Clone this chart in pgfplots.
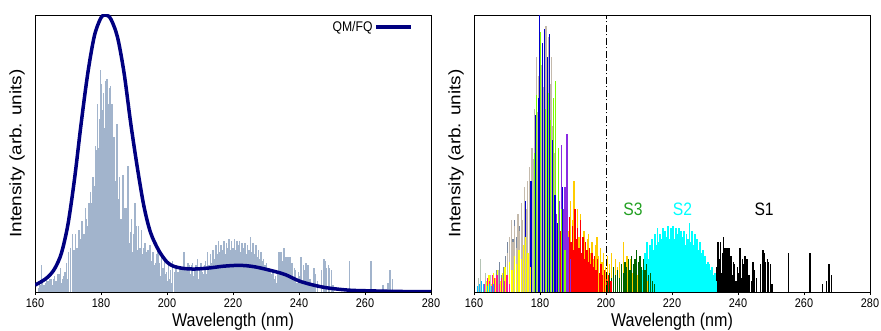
\documentclass[border=0pt]{standalone}
\usepackage{fontspec}
\setmainfont{Liberation Sans}[FakeStretch=0.87]
\newfontfamily\ylabfont{Liberation Sans}[FakeStretch=1.15]
\usepackage{pgfplots}
\usepackage{pgfplotstable}
\pgfplotsset{compat=1.18}

\definecolor{stick}{RGB}{162,180,204}
\definecolor{curve}{RGB}{0,0,128}
\definecolor{cS1}{RGB}{0,0,0}
\definecolor{cS2}{RGB}{0,255,255}
\definecolor{cS3}{RGB}{0,100,0}
\definecolor{cS4}{RGB}{255,204,0}
\definecolor{cS5}{RGB}{255,0,0}
\definecolor{cS6}{RGB}{138,43,226}
\definecolor{cS7}{RGB}{124,252,0}
\definecolor{cS8}{RGB}{0,0,205}
\definecolor{cS9}{RGB}{196,186,172}
\definecolor{cS10}{RGB}{120,136,160}
\definecolor{cS11}{RGB}{255,255,0}
\definecolor{cS12}{RGB}{255,20,147}
\definecolor{cS13}{RGB}{0,191,255}
\definecolor{cS14}{RGB}{180,195,180}
\definecolor{labgreen}{RGB}{34,160,34}

\pgfplotstableread{
x y
233.2 0.04
233.6 0.09
233.9 0.18
234.3 0.12
234.6 0.18
234.9 0.07
235.2 0.14
235.5 0.20
235.8 0.11
236.1 0.16
236.4 0.09
236.7 0.16
237.0 0.12
237.3 0.16
237.6 0.08
237.9 0.13
238.2 0.06
238.6 0.11
239.0 0.10
239.4 0.04
239.8 0.09
240.2 0.07
240.6 0.16
241.0 0.05
241.3 0.12
241.7 0.10
242.1 0.13
242.5 0.12
242.9 0.12
243.3 0.06
244.0 0.04
244.5 0.11
245.0 0.08
245.6 0.05
246.8 0.10
247.6 0.15
248.0 0.14
248.4 0.11
248.9 0.12
249.3 0.11
249.8 0.10
250.3 0.03
255.3 0.14
261.8 0.14
265.5 0.03
266.9 0.04
267.6 0.10
268.4 0.06
}\sA

\pgfplotstableread{
x y
209.5 0.06
210.3 0.10
211.0 0.08
211.7 0.14
212.3 0.18
212.8 0.12
213.2 0.17
213.6 0.13
214.0 0.19
214.4 0.15
214.8 0.21
215.2 0.17
215.6 0.23
216.0 0.18
216.4 0.21
216.8 0.19
217.2 0.23
217.6 0.17
218.0 0.22
218.4 0.20
218.8 0.24
219.2 0.19
219.6 0.23
220.0 0.20
220.4 0.24
220.8 0.19
221.2 0.23
221.6 0.21
222.0 0.23
222.4 0.18
222.8 0.22
223.2 0.20
223.6 0.22
224.0 0.17
224.4 0.21
224.8 0.19
225.3 0.25
225.7 0.18
226.1 0.22
226.5 0.17
226.9 0.21
227.3 0.16
227.7 0.19
228.1 0.15
228.5 0.18
228.9 0.14
229.3 0.15
229.7 0.12
230.1 0.13
230.5 0.10
230.9 0.11
231.3 0.10
231.7 0.08
232.1 0.09
232.5 0.06
232.9 0.07
233.3 0.04
}\sB

\pgfplotstableread{
x y
200.4 0.04
201.0 0.07
201.6 0.05
202.2 0.09
202.8 0.06
203.4 0.08
204.0 0.05
204.6 0.10
205.2 0.07
205.8 0.11
206.3 0.09
206.8 0.12
207.3 0.08
207.8 0.13
208.3 0.10
208.8 0.12
209.3 0.15
209.8 0.11
210.3 0.13
210.8 0.09
211.3 0.12
211.8 0.08
212.3 0.10
212.8 0.06
213.4 0.07
214.0 0.04
214.6 0.03
}\sC

\pgfplotstableread{
x y
186.5 0.12
187.3 0.20
188.0 0.30
188.6 0.22
189.2 0.33
189.8 0.26
190.3 0.40
190.8 0.24
191.3 0.30
191.8 0.20
192.3 0.28
192.8 0.17
193.3 0.22
193.8 0.15
194.3 0.19
194.8 0.21
195.3 0.14
195.8 0.18
196.3 0.12
196.8 0.17
197.3 0.20
197.8 0.13
198.3 0.16
198.8 0.11
199.3 0.14
199.8 0.09
200.4 0.13
201.0 0.10
201.6 0.14
202.2 0.08
202.8 0.12
203.4 0.09
204.0 0.11
204.6 0.07
205.2 0.18
205.8 0.10
206.4 0.13
207.0 0.08
207.6 0.12
208.2 0.07
208.8 0.10
209.4 0.06
210.0 0.09
210.8 0.05
211.6 0.07
212.4 0.04
}\sD

\pgfplotstableread{
x y
185.6 0.10
186.1 0.22
186.6 0.37
187.0 0.18
187.4 0.30
187.8 0.24
188.2 0.35
188.6 0.20
189.0 0.27
189.4 0.18
189.8 0.24
190.2 0.15
190.6 0.30
191.0 0.19
191.4 0.23
191.8 0.16
192.2 0.26
192.6 0.14
193.0 0.20
193.4 0.12
193.8 0.18
194.2 0.15
194.6 0.11
195.0 0.16
195.4 0.10
195.8 0.14
196.2 0.09
196.6 0.13
197.0 0.08
197.5 0.12
198.0 0.07
198.5 0.10
199.0 0.06
199.6 0.08
200.2 0.05
200.8 0.06
201.5 0.04
}\sE

\pgfplotstableread{
x y
181.8 0.25
182.4 0.38
183.0 0.30
183.5 0.45
184.0 0.35
184.5 0.40
185.0 0.28
185.5 0.42
186.0 0.33
186.6 0.53
187.1 0.30
187.6 0.38
188.2 0.57
188.7 0.20
189.2 0.12
}\sF

\pgfplotstableread{
x y
177.4 0.20
178.5 0.50
178.9 0.71
180.0 0.94
180.8 0.70
181.6 0.66
182.4 0.72
183.2 0.62
184.0 0.70
184.8 0.76
185.6 0.52
186.5 0.30
187.6 0.15
}\sG

\pgfplotstableread{
x y
175.6 0.33
177.3 0.40
178.7 0.64
179.5 0.70
179.9 1.00
180.7 0.90
181.4 0.95
182.2 0.85
182.9 0.93
183.7 0.55
184.5 0.35
185.4 0.25
186.9 0.38
}\sH

\pgfplotstableread{
x y
169.5 0.08
170.2 0.14
170.8 0.20
171.3 0.26
171.8 0.18
172.3 0.24
172.8 0.16
173.3 0.28
173.8 0.22
174.3 0.32
174.8 0.26
175.3 0.38
175.8 0.30
176.3 0.40
176.8 0.45
177.2 0.36
177.6 0.52
178.0 0.48
178.4 0.66
178.9 0.85
179.3 0.65
179.7 0.78
180.1 0.70
180.5 0.82
180.9 0.74
181.3 0.88
181.8 0.96
182.2 0.80
182.6 0.92
183.0 0.75
183.4 0.85
183.8 0.60
184.2 0.50
184.7 0.35
185.2 0.22
}\sI

\pgfplotstableread{
x y
166.4 0.05
167.0 0.08
167.8 0.11
168.4 0.06
169.0 0.09
169.6 0.13
170.2 0.18
170.8 0.15
171.3 0.22
171.8 0.19
172.3 0.26
172.8 0.20
173.3 0.28
173.8 0.24
174.3 0.30
174.8 0.22
175.3 0.34
175.8 0.26
176.3 0.20
176.8 0.28
177.3 0.15
177.8 0.10
}\sJ

\pgfplotstableread{
x y
163.8 0.04
164.5 0.06
165.2 0.03
165.9 0.07
166.6 0.05
167.3 0.08
168.0 0.04
168.7 0.07
169.4 0.09
170.1 0.06
170.8 0.11
171.5 0.08
172.2 0.13
172.9 0.10
173.6 0.15
174.3 0.12
175.0 0.17
175.7 0.20
176.4 0.14
177.1 0.09
}\sK

\pgfplotstableread{
x y
163.2 0.03
164.0 0.05
164.8 0.04
165.6 0.06
166.3 0.05
167.0 0.06
167.7 0.03
168.4 0.05
169.2 0.04
170.0 0.06
170.8 0.03
}\sL

\pgfplotstableread{
x y
161.0 0.02
161.6 0.03
162.2 0.04
162.8 0.03
163.4 0.04
164.0 0.02
164.6 0.03
165.3 0.02
166.0 0.03
}\sM

\pgfplotstableread{
x y
161.4 0.05
162.0 0.12
163.5 0.07
165.0 0.06
167.5 0.08
}\sN

\pgfplotsset{
  panel/.style={
    width=396bp, height=277bp, scale only axis,
    xmin=160, xmax=280, ymin=0, ymax=1,
    xtick={160,180,...,280}, ytick=\empty,
    tick pos=left, tick align=outside, major tick length=3bp,
    /pgf/number format/assume math mode=true,
    /pgf/number format/1000 sep={},
    tick label style={font=\fontsize{12.5bp}{14bp}\selectfont},
    axis line style={line width=0.8bp},
    every tick/.style={black, line width=0.8bp},
    xlabel={Wavelength (nm)},
    xlabel style={font=\fontsize{18.5bp}{20bp}\selectfont, at={(axis description cs:0.5,0)}, anchor=base, yshift=-34bp},
    ylabel={Intensity (arb. units)},
    ylabel style={font=\ylabfont\fontsize{16.5bp}{18bp}\selectfont, at={(axis description cs:-0.045,0.5)}, anchor=center},
  },
  lstick/.style={ycomb, draw=stick, line width=1.5bp, mark=none, forget plot},
  rstick/.style={ycomb, draw=#1, line width=1.3bp, mark=none},
}

\begin{document}
\begin{tikzpicture}
\path[use as bounding box] (0,0) rectangle (881bp,331bp);
\begin{axis}[panel, at={(35bp,39bp)}, anchor=south west,
  legend plot pos=right,
  legend style={draw=none, fill=none, at={(rel axis cs:0.955,0.985)}, anchor=north east,
    font=\fontsize{14bp}{16bp}\selectfont, inner sep=0pt},
  legend image code/.code={\draw[#1] (0bp,0bp) -- (35bp,0bp);},
]
\addplot[lstick] table[x=x, y expr=0.8*\thisrow{y}] {\sA};
\addplot[lstick] table[x=x, y expr=0.8*\thisrow{y}] {\sB};
\addplot[lstick] table[x=x, y expr=0.8*\thisrow{y}] {\sC};
\addplot[lstick] table[x=x, y expr=0.8*\thisrow{y}] {\sD};
\addplot[lstick] table[x=x, y expr=0.8*\thisrow{y}] {\sE};
\addplot[lstick] table[x=x, y expr=0.8*\thisrow{y}] {\sF};
\addplot[lstick] table[x=x, y expr=0.8*\thisrow{y}] {\sG};
\addplot[lstick] table[x=x, y expr=0.8*\thisrow{y}] {\sH};
\addplot[lstick] table[x=x, y expr=0.8*\thisrow{y}] {\sI};
\addplot[lstick] table[x=x, y expr=0.8*\thisrow{y}] {\sJ};
\addplot[lstick] table[x=x, y expr=0.8*\thisrow{y}] {\sK};
\addplot[lstick] table[x=x, y expr=0.8*\thisrow{y}] {\sL};
\addplot[lstick] table[x=x, y expr=0.8*\thisrow{y}] {\sM};
\addplot[lstick] table[x=x, y expr=0.8*\thisrow{y}] {\sN};
\addplot[smooth, draw=curve, line width=3.5bp, mark=none] coordinates {
(160,0.025) (162,0.038) (164,0.055) (166,0.085) (168,0.14) (170,0.245)
(172,0.41) (174,0.61) (176,0.79) (178,0.925) (180,0.99) (181.5,1.0)
(183,0.985) (185,0.92) (187,0.79) (189,0.61) (191,0.45) (193,0.31)
(195,0.215) (197.5,0.15) (200,0.108) (202,0.093) (205,0.085) (208.5,0.083)
(213,0.087) (217,0.093) (221,0.096) (224,0.095) (227,0.09) (230,0.082)
(233,0.073) (236,0.062) (240,0.04) (244,0.026) (248,0.016) (252,0.01)
(256,0.006) (262,0.004) (270,0.002) (280,0.001)};
\addlegendentry{QM/FQ}
\end{axis}

\begin{axis}[panel, at={(474bp,39bp)}, anchor=south west]
\addplot[rstick=cS1] table[x=x, y=y] {\sA};
\addplot[rstick=cS2, line width=1.9bp] table[x=x, y=y] {\sB};
\addplot[rstick=cS4] table[x=x, y=y] {\sD};
\addplot[rstick=cS3] table[x=x, y=y] {\sC};
\addplot[rstick=cS5] table[x=x, y=y] {\sE};
\addplot[rstick=cS6] table[x=x, y=y] {\sF};
\addplot[rstick=cS10] table[x=x, y=y] {\sJ};
\addplot[rstick=cS9] table[x=x, y=y] {\sI};
\addplot[rstick=cS7] table[x=x, y=y] {\sG};
\addplot[rstick=cS8] table[x=x, y=y] {\sH};
\addplot[rstick=cS11] table[x=x, y=y] {\sK};
\addplot[rstick=cS12] table[x=x, y=y] {\sL};
\addplot[rstick=cS13] table[x=x, y=y] {\sM};
\addplot[rstick=cS14] table[x=x, y=y] {\sN};
\addplot[black, line width=0.8bp, dash pattern=on 7bp off 2.5bp on 1bp off 2.5bp, mark=none] coordinates {(200,0) (200,1)};
\node[font=\fontsize{18bp}{20bp}\selectfont, text=labgreen] at (axis cs:208.2,0.30) {S3};
\node[font=\fontsize{18bp}{20bp}\selectfont, text=cS2] at (axis cs:223.2,0.30) {S2};
\node[font=\fontsize{18bp}{20bp}\selectfont, text=black] at (axis cs:247.9,0.30) {S1};
\end{axis}
\end{tikzpicture}
\end{document}
